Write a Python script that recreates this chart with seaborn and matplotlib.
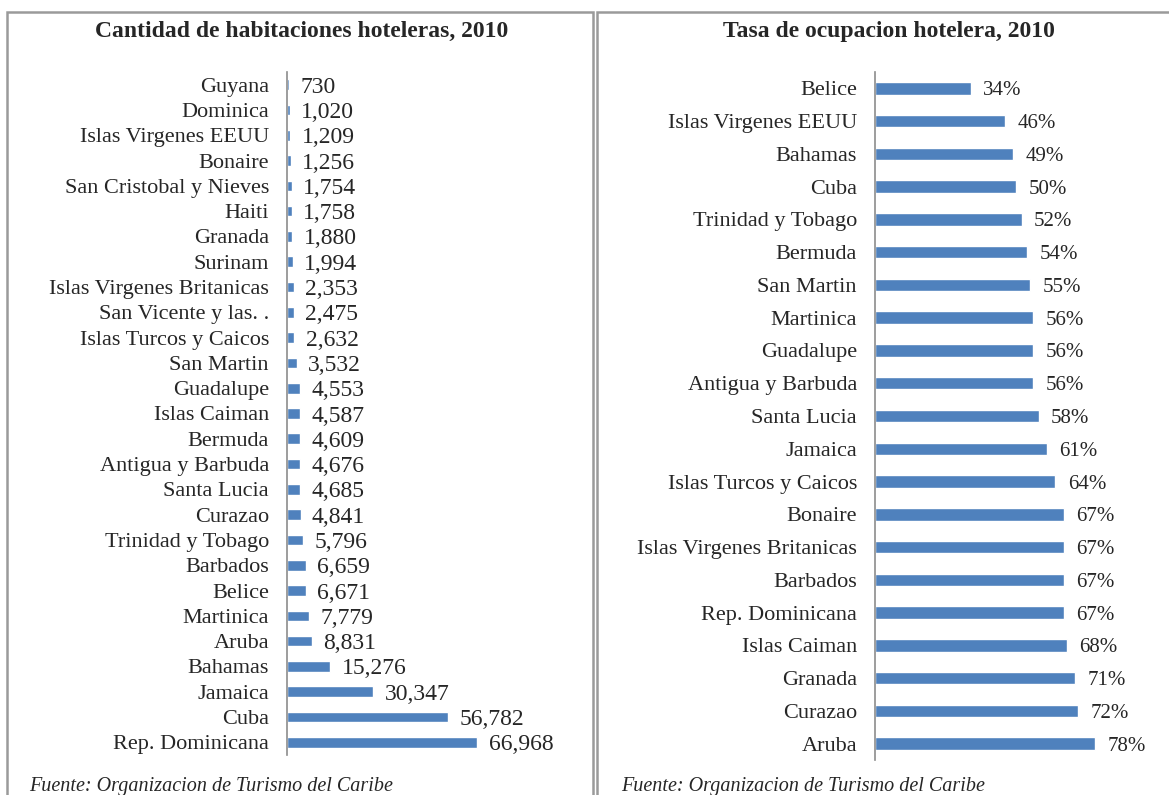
import matplotlib
matplotlib.use("Agg")
import matplotlib.pyplot as plt
import matplotlib.patches as mpatches
import seaborn as sns

# ------------------------------------------------------------------
# data
# ------------------------------------------------------------------
rooms_countries = ['Guyana', 'Dominica', 'Islas Virgenes EEUU', 'Bonaire',
                   'San Cristobal y Nieves', 'Haiti', 'Granada', 'Surinam',
                   'Islas Virgenes Britanicas', 'San Vicente y las. .',
                   'Islas Turcos y Caicos', 'San Martin', 'Guadalupe',
                   'Islas Caiman', 'Bermuda', 'Antigua y Barbuda', 'Santa Lucia',
                   'Curazao', 'Trinidad y Tobago', 'Barbados', 'Belice',
                   'Martinica', 'Aruba', 'Bahamas', 'Jamaica', 'Cuba',
                   'Rep. Dominicana']
rooms_values = [730, 1020, 1209, 1256, 1754, 1758, 1880, 1994, 2353, 2475,
                2632, 3532, 4553, 4587, 4609, 4676, 4685, 4841, 5796, 6659,
                6671, 7779, 8831, 15276, 30347, 56782, 66968]

occ_countries = ['Belice', 'Islas Virgenes EEUU', 'Bahamas', 'Cuba',
                 'Trinidad y Tobago', 'Bermuda', 'San Martin', 'Martinica',
                 'Guadalupe', 'Antigua y Barbuda', 'Santa Lucia', 'Jamaica',
                 'Islas Turcos y Caicos', 'Bonaire', 'Islas Virgenes Britanicas',
                 'Barbados', 'Rep. Dominicana', 'Islas Caiman', 'Granada',
                 'Curazao', 'Aruba']
occ_values = [34, 46, 49, 50, 52, 54, 55, 56, 56, 56, 58, 61, 64, 67, 67,
              67, 67, 68, 71, 72, 78]

title_left = "Cantidad de habitaciones hoteleras, 2010"
title_right = "Tasa de ocupacion hotelera, 2010"
source = "Fuente: Organizacion de Turismo del Caribe"

# ------------------------------------------------------------------
# style
# ------------------------------------------------------------------
sns.set_theme(style="white")
plt.rcParams['font.family'] = ['Liberation Serif', 'DejaVu Serif']
BAR = '#4F81BD'
W, H = 1169, 795

fig = plt.figure(figsize=(W / 100, H / 100), dpi=100)


def px_axes(x0, y0, x1, y1):
    # pixel box (top-left origin) -> figure axes
    return fig.add_axes([x0 / W, 1 - y1 / H, (x1 - x0) / W, (y1 - y0) / H])


def style_axis(ax, pad):
    for s in ['top', 'right', 'bottom']:
        ax.spines[s].set_visible(False)
    ax.spines['left'].set_color('#8c8c8c')
    ax.spines['left'].set_linewidth(1.2)
    ax.set_xticks([])
    ax.tick_params(axis='y', length=0, pad=pad, labelsize=16)
    ax.set_xlabel('')
    ax.set_ylabel('')


# --- left panel ---
ax1 = px_axes(287, 72, 577, 755)
sns.barplot(x=rooms_values, y=rooms_countries, orient='h', color=BAR,
            saturation=1, width=0.42, ax=ax1)
ax1.set_xlim(0, 102000)
style_axis(ax1, 13)
for t in ax1.bar_label(ax1.containers[0], labels=[f"{v:,}" for v in rooms_values],
                       padding=8, fontsize=17):
    t.set_va('center_baseline')

# --- right panel ---
ax2 = px_axes(875, 72, 1157, 760)
sns.barplot(x=occ_values, y=occ_countries, orient='h', color=BAR,
            saturation=1, width=0.38, ax=ax2)
ax2.set_xlim(0, 100)
style_axis(ax2, 13)
for t in ax2.bar_label(ax2.containers[0], labels=[f"{v}%" for v in occ_values],
                       padding=9, fontsize=15):
    t.set_va('center_baseline')

# titles and source
fig.text(302 / W, 1 - 31 / H, title_left, ha='center', va='center',
         fontsize=17, fontweight='bold')
fig.text(889 / W, 1 - 31 / H, title_right, ha='center', va='center',
         fontsize=17, fontweight='bold')
fig.text(29 / W, 4 / H, source, ha='left', va='baseline',
         fontsize=14.5, style='italic')
fig.text(621 / W, 4 / H, source, ha='left', va='baseline',
         fontsize=14.5, style='italic')

# panel frames
for x0, x1 in [(7, 593), (597, 1200)]:
    fig.patches.append(mpatches.Rectangle(
        (x0 / W, -0.05), (x1 - x0) / W, 1.05 - 12 / H,
        transform=fig.transFigure, fill=False,
        edgecolor='#9a9a9a', linewidth=1.8))

fig.savefig('out.png', dpi=100)
